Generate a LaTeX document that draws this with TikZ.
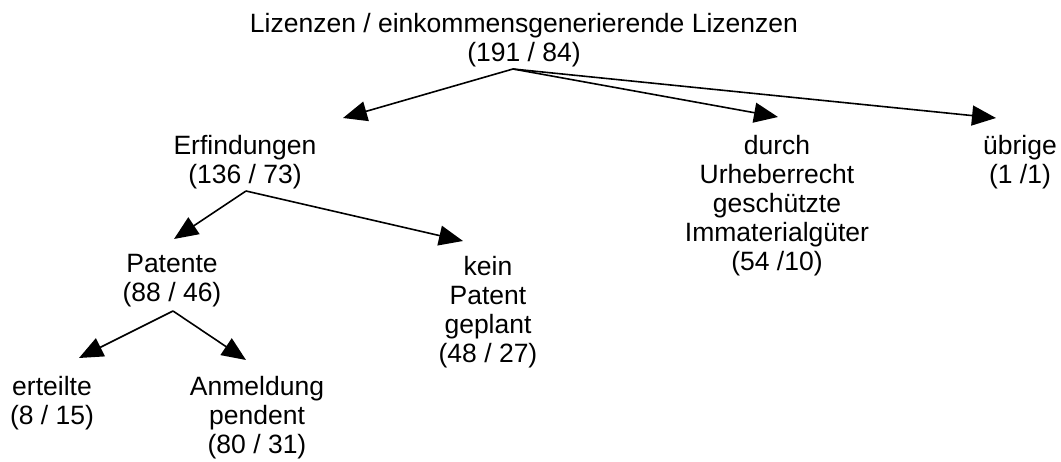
\documentclass[tikz,border=0pt]{standalone}
\usepackage{fontspec}
\setmainfont{Liberation Sans}
\usetikzlibrary{arrows.meta}
\begin{document}
\begin{tikzpicture}[x=1pt,y=-1pt,
  lbl/.style={anchor=north,inner sep=0pt,align=center,font=\fontsize{26.5}{29}\selectfont},
  arr/.style={line width=1.6pt,-{Triangle[length=24pt,width=20pt]}}]
\useasboundingbox (0,0) rectangle (1061,462);
\node[lbl] (root) at (524,13) {Lizenzen / einkommensgenerierende Lizenzen\\(191 / 84)};
\node[lbl] (erf) at (245,135) {Erfindungen\\(136 / 73)};
\node[lbl] (durch) at (777,135) {durch\\Urheberrecht\\geschützte\\Immaterialgüter\\(54 /10)};
\node[lbl] (ueb) at (1020,135) {übrige\\(1 /1)};
\node[lbl] (pat) at (172,254) {Patente\\(88 / 46)};
\node[lbl] (kein) at (488,256) {kein\\Patent\\geplant\\(48 / 27)};
\node[lbl] (ert) at (52,376) {erteilte\\(8 / 15)};
\node[lbl] (anm) at (257,376) {Anmeldung\\pendent\\(80 / 31)};
\coordinate (rootS) at (513,69);
\coordinate (erfT) at (343,118);
\coordinate (durchT) at (778,117);
\coordinate (uebT) at (996,118);
\coordinate (erfS) at (246,191);
\coordinate (patT) at (174,239);
\coordinate (keinT) at (463,241);
\coordinate (patS) at (173,311);
\coordinate (ertT) at (79,358);
\coordinate (anmT) at (246,360);
\draw[arr] (rootS) -- (erfT);
\draw[arr] (rootS) -- (durchT);
\draw[arr] (rootS) -- (uebT);
\draw[arr] (erfS) -- (patT);
\draw[arr] (erfS) -- (keinT);
\draw[arr] (patS) -- (ertT);
\draw[arr] (patS) -- (anmT);
\end{tikzpicture}
\end{document}
